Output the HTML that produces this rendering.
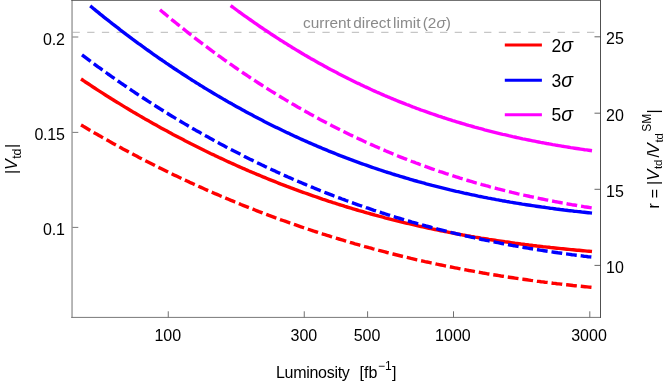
<!DOCTYPE html>
<html><head><meta charset="utf-8"><title>Vtd sensitivity</title>
<style>
html,body{margin:0;padding:0;background:#fff;}
svg{display:block;will-change:transform;}
text{font-family:"Liberation Sans",sans-serif;fill:#000;}
.t{font-size:16px;}
.i{font-style:italic;}
</style></head><body>
<svg width="664" height="386" viewBox="0 0 664 386">
<rect width="664" height="386" fill="#fff"/>
<!-- horizontal dashed limit line -->
<line x1="72.5" y1="32.3" x2="600" y2="32.3" stroke="#b8b8b8" stroke-width="1" stroke-dasharray="7.3 7.4"/>
<text x="303" y="27.9" font-size="15.4" word-spacing="-2" style="fill:#8a8a8a" id="lim">current direct limit (2<tspan class="i">σ</tspan>)</text>
<!-- curves -->
<g fill="none" stroke-width="3.4" stroke-linecap="butt" stroke-linejoin="round">
<path d="M81.0,79.0 L83.0,80.3 L85.0,81.7 L87.0,83.0 L89.0,84.3 L91.0,85.6 L93.0,87.0 L95.0,88.3 L97.0,89.6 L99.0,90.9 L101.0,92.1 L103.0,93.4 L105.0,94.7 L107.0,96.0 L109.0,97.2 L111.0,98.5 L113.0,99.7 L115.0,101.0 L117.0,102.2 L119.0,103.4 L121.0,104.6 L123.0,105.9 L125.0,107.1 L127.0,108.3 L129.0,109.5 L131.0,110.7 L133.0,111.9 L135.0,113.0 L137.0,114.2 L139.0,115.4 L141.0,116.6 L143.0,117.7 L145.0,118.9 L147.0,120.0 L149.0,121.1 L151.0,122.3 L153.0,123.4 L155.0,124.5 L157.0,125.6 L159.0,126.8 L161.0,127.9 L163.0,129.0 L165.0,130.1 L167.0,131.1 L169.0,132.2 L171.0,133.3 L173.0,134.4 L175.0,135.4 L177.0,136.5 L179.0,137.6 L181.0,138.6 L183.0,139.6 L185.0,140.7 L187.0,141.7 L189.0,142.7 L191.0,143.8 L193.0,144.8 L195.0,145.8 L197.0,146.8 L199.0,147.8 L201.0,148.8 L203.0,149.8 L205.0,150.8 L207.0,151.7 L209.0,152.7 L211.0,153.7 L213.0,154.6 L215.0,155.6 L217.0,156.5 L219.0,157.5 L221.0,158.4 L223.0,159.3 L225.0,160.3 L227.0,161.2 L229.0,162.1 L231.0,163.0 L233.0,163.9 L235.0,164.8 L237.0,165.7 L239.0,166.6 L241.0,167.5 L243.0,168.4 L245.0,169.2 L247.0,170.1 L249.0,171.0 L251.0,171.8 L253.0,172.7 L255.0,173.5 L257.0,174.4 L259.0,175.2 L261.0,176.0 L263.0,176.9 L265.0,177.7 L267.0,178.5 L269.0,179.3 L271.0,180.1 L273.0,180.9 L275.0,181.7 L277.0,182.5 L279.0,183.3 L281.0,184.1 L283.0,184.8 L285.0,185.6 L287.0,186.4 L289.0,187.1 L291.0,187.9 L293.0,188.6 L295.0,189.4 L297.0,190.1 L299.0,190.9 L301.0,191.6 L303.0,192.3 L305.0,193.0 L307.0,193.7 L309.0,194.4 L311.0,195.1 L313.0,195.8 L315.0,196.5 L317.0,197.2 L319.0,197.9 L321.0,198.6 L323.0,199.3 L325.0,199.9 L327.0,200.6 L329.0,201.3 L331.0,201.9 L333.0,202.6 L335.0,203.2 L337.0,203.8 L339.0,204.5 L341.0,205.1 L343.0,205.7 L345.0,206.4 L347.0,207.0 L349.0,207.6 L351.0,208.2 L353.0,208.8 L355.0,209.4 L357.0,210.0 L359.0,210.6 L361.0,211.1 L363.0,211.7 L365.0,212.3 L367.0,212.9 L369.0,213.4 L371.0,214.0 L373.0,214.5 L375.0,215.1 L377.0,215.6 L379.0,216.2 L381.0,216.7 L383.0,217.2 L385.0,217.8 L387.0,218.3 L389.0,218.8 L391.0,219.3 L393.0,219.8 L395.0,220.3 L397.0,220.8 L399.0,221.3 L401.0,221.8 L403.0,222.3 L405.0,222.8 L407.0,223.3 L409.0,223.7 L411.0,224.2 L413.0,224.7 L415.0,225.1 L417.0,225.6 L419.0,226.1 L421.0,226.5 L423.0,226.9 L425.0,227.4 L427.0,227.8 L429.0,228.3 L431.0,228.7 L433.0,229.1 L435.0,229.5 L437.0,229.9 L439.0,230.3 L441.0,230.8 L443.0,231.2 L445.0,231.6 L447.0,231.9 L449.0,232.3 L451.0,232.7 L453.0,233.1 L455.0,233.5 L457.0,233.9 L459.0,234.2 L461.0,234.6 L463.0,235.0 L465.0,235.3 L467.0,235.7 L469.0,236.0 L471.0,236.4 L473.0,236.7 L475.0,237.1 L477.0,237.4 L479.0,237.7 L481.0,238.1 L483.0,238.4 L485.0,238.7 L487.0,239.0 L489.0,239.4 L491.0,239.7 L493.0,240.0 L495.0,240.3 L497.0,240.6 L499.0,240.9 L501.0,241.2 L503.0,241.5 L505.0,241.8 L507.0,242.0 L509.0,242.3 L511.0,242.6 L513.0,242.9 L515.0,243.2 L517.0,243.4 L519.0,243.7 L521.0,244.0 L523.0,244.2 L525.0,244.5 L527.0,244.7 L529.0,245.0 L531.0,245.2 L533.0,245.5 L535.0,245.7 L537.0,246.0 L539.0,246.2 L541.0,246.4 L543.0,246.7 L545.0,246.9 L547.0,247.1 L549.0,247.3 L551.0,247.6 L553.0,247.8 L555.0,248.0 L557.0,248.2 L559.0,248.4 L561.0,248.6 L563.0,248.8 L565.0,249.0 L567.0,249.2 L569.0,249.4 L571.0,249.6 L573.0,249.8 L575.0,250.0 L577.0,250.2 L579.0,250.3 L581.0,250.5 L583.0,250.7 L585.0,250.9 L587.0,251.1 L589.0,251.2 L591.0,251.4 L592.0,251.5" stroke="#ff0000"/>
<path d="M81.0,125.0 L83.0,126.1 L85.0,127.3 L87.0,128.5 L89.0,129.7 L91.0,130.9 L93.0,132.0 L95.0,133.2 L97.0,134.3 L99.0,135.5 L101.0,136.6 L103.0,137.8 L105.0,138.9 L107.0,140.0 L109.0,141.1 L111.0,142.3 L113.0,143.4 L115.0,144.5 L117.0,145.6 L119.0,146.7 L121.0,147.8 L123.0,148.9 L125.0,149.9 L127.0,151.0 L129.0,152.1 L131.0,153.1 L133.0,154.2 L135.0,155.3 L137.0,156.3 L139.0,157.4 L141.0,158.4 L143.0,159.4 L145.0,160.5 L147.0,161.5 L149.0,162.5 L151.0,163.5 L153.0,164.5 L155.0,165.6 L157.0,166.6 L159.0,167.6 L161.0,168.5 L163.0,169.5 L165.0,170.5 L167.0,171.5 L169.0,172.5 L171.0,173.4 L173.0,174.4 L175.0,175.4 L177.0,176.3 L179.0,177.3 L181.0,178.2 L183.0,179.2 L185.0,180.1 L187.0,181.0 L189.0,181.9 L191.0,182.9 L193.0,183.8 L195.0,184.7 L197.0,185.6 L199.0,186.5 L201.0,187.4 L203.0,188.3 L205.0,189.2 L207.0,190.1 L209.0,191.0 L211.0,191.8 L213.0,192.7 L215.0,193.6 L217.0,194.4 L219.0,195.3 L221.0,196.2 L223.0,197.0 L225.0,197.8 L227.0,198.7 L229.0,199.5 L231.0,200.4 L233.0,201.2 L235.0,202.0 L237.0,202.8 L239.0,203.6 L241.0,204.5 L243.0,205.3 L245.0,206.1 L247.0,206.9 L249.0,207.7 L251.0,208.4 L253.0,209.2 L255.0,210.0 L257.0,210.8 L259.0,211.6 L261.0,212.3 L263.0,213.1 L265.0,213.8 L267.0,214.6 L269.0,215.4 L271.0,216.1 L273.0,216.8 L275.0,217.6 L277.0,218.3 L279.0,219.0 L281.0,219.8 L283.0,220.5 L285.0,221.2 L287.0,221.9 L289.0,222.6 L291.0,223.3 L293.0,224.0 L295.0,224.7 L297.0,225.4 L299.0,226.1 L301.0,226.8 L303.0,227.5 L305.0,228.2 L307.0,228.8 L309.0,229.5 L311.0,230.2 L313.0,230.8 L315.0,231.5 L317.0,232.1 L319.0,232.8 L321.0,233.4 L323.0,234.1 L325.0,234.7 L327.0,235.3 L329.0,235.9 L331.0,236.6 L333.0,237.2 L335.0,237.8 L337.0,238.4 L339.0,239.0 L341.0,239.6 L343.0,240.2 L345.0,240.8 L347.0,241.4 L349.0,242.0 L351.0,242.6 L353.0,243.2 L355.0,243.8 L357.0,244.3 L359.0,244.9 L361.0,245.5 L363.0,246.0 L365.0,246.6 L367.0,247.1 L369.0,247.7 L371.0,248.2 L373.0,248.8 L375.0,249.3 L377.0,249.8 L379.0,250.4 L381.0,250.9 L383.0,251.4 L385.0,251.9 L387.0,252.5 L389.0,253.0 L391.0,253.5 L393.0,254.0 L395.0,254.5 L397.0,255.0 L399.0,255.5 L401.0,256.0 L403.0,256.5 L405.0,256.9 L407.0,257.4 L409.0,257.9 L411.0,258.4 L413.0,258.8 L415.0,259.3 L417.0,259.8 L419.0,260.2 L421.0,260.7 L423.0,261.1 L425.0,261.6 L427.0,262.0 L429.0,262.4 L431.0,262.9 L433.0,263.3 L435.0,263.7 L437.0,264.2 L439.0,264.6 L441.0,265.0 L443.0,265.4 L445.0,265.8 L447.0,266.2 L449.0,266.6 L451.0,267.0 L453.0,267.4 L455.0,267.8 L457.0,268.2 L459.0,268.6 L461.0,269.0 L463.0,269.4 L465.0,269.7 L467.0,270.1 L469.0,270.5 L471.0,270.8 L473.0,271.2 L475.0,271.6 L477.0,271.9 L479.0,272.3 L481.0,272.6 L483.0,273.0 L485.0,273.3 L487.0,273.7 L489.0,274.0 L491.0,274.3 L493.0,274.7 L495.0,275.0 L497.0,275.3 L499.0,275.6 L501.0,276.0 L503.0,276.3 L505.0,276.6 L507.0,276.9 L509.0,277.2 L511.0,277.5 L513.0,277.8 L515.0,278.1 L517.0,278.4 L519.0,278.7 L521.0,279.0 L523.0,279.2 L525.0,279.5 L527.0,279.8 L529.0,280.1 L531.0,280.4 L533.0,280.6 L535.0,280.9 L537.0,281.2 L539.0,281.4 L541.0,281.7 L543.0,281.9 L545.0,282.2 L547.0,282.4 L549.0,282.7 L551.0,282.9 L553.0,283.2 L555.0,283.4 L557.0,283.7 L559.0,283.9 L561.0,284.1 L563.0,284.4 L565.0,284.6 L567.0,284.8 L569.0,285.0 L571.0,285.2 L573.0,285.5 L575.0,285.7 L577.0,285.9 L579.0,286.1 L581.0,286.3 L583.0,286.5 L585.0,286.7 L587.0,286.9 L589.0,287.1 L591.0,287.3 L592.0,287.4" stroke="#ff0000" stroke-dasharray="10.8 3.91"/>
<path d="M90.2,5.9 L92.2,7.5 L94.2,9.2 L96.2,10.8 L98.2,12.4 L100.2,14.1 L102.2,15.7 L104.2,17.3 L106.2,18.9 L108.2,20.4 L110.2,22.0 L112.2,23.6 L114.2,25.1 L116.2,26.7 L118.2,28.2 L120.2,29.8 L122.2,31.3 L124.2,32.8 L126.2,34.4 L128.2,35.9 L130.2,37.4 L132.2,38.9 L134.2,40.3 L136.2,41.8 L138.2,43.3 L140.2,44.7 L142.2,46.2 L144.2,47.6 L146.2,49.1 L148.2,50.5 L150.2,51.9 L152.2,53.4 L154.2,54.8 L156.2,56.2 L158.2,57.6 L160.2,59.0 L162.2,60.3 L164.2,61.7 L166.2,63.1 L168.2,64.4 L170.2,65.8 L172.2,67.1 L174.2,68.5 L176.2,69.8 L178.2,71.1 L180.2,72.4 L182.2,73.7 L184.2,75.0 L186.2,76.3 L188.2,77.6 L190.2,78.9 L192.2,80.2 L194.2,81.4 L196.2,82.7 L198.2,83.9 L200.2,85.2 L202.2,86.4 L204.2,87.7 L206.2,88.9 L208.2,90.1 L210.2,91.3 L212.2,92.5 L214.2,93.7 L216.2,94.9 L218.2,96.1 L220.2,97.2 L222.2,98.4 L224.2,99.6 L226.2,100.7 L228.2,101.9 L230.2,103.0 L232.2,104.1 L234.2,105.3 L236.2,106.4 L238.2,107.5 L240.2,108.6 L242.2,109.7 L244.2,110.8 L246.2,111.9 L248.2,113.0 L250.2,114.0 L252.2,115.1 L254.2,116.2 L256.2,117.2 L258.2,118.3 L260.2,119.3 L262.2,120.3 L264.2,121.4 L266.2,122.4 L268.2,123.4 L270.2,124.4 L272.2,125.4 L274.2,126.4 L276.2,127.4 L278.2,128.3 L280.2,129.3 L282.2,130.3 L284.2,131.2 L286.2,132.2 L288.2,133.1 L290.2,134.1 L292.2,135.0 L294.2,136.0 L296.2,136.9 L298.2,137.8 L300.2,138.7 L302.2,139.6 L304.2,140.5 L306.2,141.4 L308.2,142.3 L310.2,143.1 L312.2,144.0 L314.2,144.9 L316.2,145.7 L318.2,146.6 L320.2,147.4 L322.2,148.3 L324.2,149.1 L326.2,149.9 L328.2,150.8 L330.2,151.6 L332.2,152.4 L334.2,153.2 L336.2,154.0 L338.2,154.8 L340.2,155.6 L342.2,156.3 L344.2,157.1 L346.2,157.9 L348.2,158.6 L350.2,159.4 L352.2,160.1 L354.2,160.9 L356.2,161.6 L358.2,162.3 L360.2,163.1 L362.2,163.8 L364.2,164.5 L366.2,165.2 L368.2,165.9 L370.2,166.6 L372.2,167.3 L374.2,168.0 L376.2,168.7 L378.2,169.3 L380.2,170.0 L382.2,170.7 L384.2,171.3 L386.2,172.0 L388.2,172.6 L390.2,173.2 L392.2,173.9 L394.2,174.5 L396.2,175.1 L398.2,175.7 L400.2,176.3 L402.2,176.9 L404.2,177.5 L406.2,178.1 L408.2,178.7 L410.2,179.3 L412.2,179.9 L414.2,180.5 L416.2,181.0 L418.2,181.6 L420.2,182.1 L422.2,182.7 L424.2,183.2 L426.2,183.8 L428.2,184.3 L430.2,184.8 L432.2,185.4 L434.2,185.9 L436.2,186.4 L438.2,186.9 L440.2,187.4 L442.2,187.9 L444.2,188.4 L446.2,188.9 L448.2,189.4 L450.2,189.9 L452.2,190.3 L454.2,190.8 L456.2,191.3 L458.2,191.7 L460.2,192.2 L462.2,192.6 L464.2,193.1 L466.2,193.5 L468.2,193.9 L470.2,194.4 L472.2,194.8 L474.2,195.2 L476.2,195.6 L478.2,196.1 L480.2,196.5 L482.2,196.9 L484.2,197.3 L486.2,197.7 L488.2,198.1 L490.2,198.4 L492.2,198.8 L494.2,199.2 L496.2,199.6 L498.2,199.9 L500.2,200.3 L502.2,200.7 L504.2,201.0 L506.2,201.4 L508.2,201.7 L510.2,202.1 L512.2,202.4 L514.2,202.8 L516.2,203.1 L518.2,203.4 L520.2,203.7 L522.2,204.1 L524.2,204.4 L526.2,204.7 L528.2,205.0 L530.2,205.3 L532.2,205.6 L534.2,205.9 L536.2,206.2 L538.2,206.5 L540.2,206.8 L542.2,207.1 L544.2,207.3 L546.2,207.6 L548.2,207.9 L550.2,208.2 L552.2,208.4 L554.2,208.7 L556.2,209.0 L558.2,209.2 L560.2,209.5 L562.2,209.7 L564.2,210.0 L566.2,210.2 L568.2,210.5 L570.2,210.7 L572.2,210.9 L574.2,211.2 L576.2,211.4 L578.2,211.6 L580.2,211.8 L582.2,212.1 L584.2,212.3 L586.2,212.5 L588.2,212.7 L590.2,212.9 L592.0,213.1" stroke="#0000ff"/>
<path d="M82.0,54.9 L84.0,56.4 L86.0,57.9 L88.0,59.4 L90.0,60.9 L92.0,62.4 L94.0,63.8 L96.0,65.3 L98.0,66.8 L100.0,68.2 L102.0,69.7 L104.0,71.1 L106.0,72.5 L108.0,74.0 L110.0,75.4 L112.0,76.8 L114.0,78.2 L116.0,79.6 L118.0,81.0 L120.0,82.4 L122.0,83.8 L124.0,85.1 L126.0,86.5 L128.0,87.9 L130.0,89.2 L132.0,90.6 L134.0,91.9 L136.0,93.3 L138.0,94.6 L140.0,95.9 L142.0,97.2 L144.0,98.5 L146.0,99.8 L148.0,101.1 L150.0,102.4 L152.0,103.7 L154.0,105.0 L156.0,106.2 L158.0,107.5 L160.0,108.8 L162.0,110.0 L164.0,111.3 L166.0,112.5 L168.0,113.7 L170.0,115.0 L172.0,116.2 L174.0,117.4 L176.0,118.6 L178.0,119.8 L180.0,121.0 L182.0,122.2 L184.0,123.4 L186.0,124.6 L188.0,125.7 L190.0,126.9 L192.0,128.1 L194.0,129.2 L196.0,130.4 L198.0,131.5 L200.0,132.6 L202.0,133.8 L204.0,134.9 L206.0,136.0 L208.0,137.1 L210.0,138.2 L212.0,139.3 L214.0,140.4 L216.0,141.5 L218.0,142.6 L220.0,143.7 L222.0,144.7 L224.0,145.8 L226.0,146.9 L228.0,147.9 L230.0,149.0 L232.0,150.0 L234.0,151.1 L236.0,152.1 L238.0,153.1 L240.0,154.1 L242.0,155.1 L244.0,156.2 L246.0,157.2 L248.0,158.2 L250.0,159.2 L252.0,160.1 L254.0,161.1 L256.0,162.1 L258.0,163.1 L260.0,164.0 L262.0,165.0 L264.0,165.9 L266.0,166.9 L268.0,167.8 L270.0,168.8 L272.0,169.7 L274.0,170.6 L276.0,171.6 L278.0,172.5 L280.0,173.4 L282.0,174.3 L284.0,175.2 L286.0,176.1 L288.0,177.0 L290.0,177.8 L292.0,178.7 L294.0,179.6 L296.0,180.5 L298.0,181.3 L300.0,182.2 L302.0,183.0 L304.0,183.9 L306.0,184.7 L308.0,185.6 L310.0,186.4 L312.0,187.2 L314.0,188.0 L316.0,188.8 L318.0,189.7 L320.0,190.5 L322.0,191.3 L324.0,192.1 L326.0,192.8 L328.0,193.6 L330.0,194.4 L332.0,195.2 L334.0,196.0 L336.0,196.7 L338.0,197.5 L340.0,198.2 L342.0,199.0 L344.0,199.7 L346.0,200.5 L348.0,201.2 L350.0,201.9 L352.0,202.6 L354.0,203.4 L356.0,204.1 L358.0,204.8 L360.0,205.5 L362.0,206.2 L364.0,206.9 L366.0,207.6 L368.0,208.2 L370.0,208.9 L372.0,209.6 L374.0,210.3 L376.0,210.9 L378.0,211.6 L380.0,212.2 L382.0,212.9 L384.0,213.5 L386.0,214.2 L388.0,214.8 L390.0,215.4 L392.0,216.1 L394.0,216.7 L396.0,217.3 L398.0,217.9 L400.0,218.5 L402.0,219.1 L404.0,219.7 L406.0,220.3 L408.0,220.9 L410.0,221.5 L412.0,222.1 L414.0,222.6 L416.0,223.2 L418.0,223.8 L420.0,224.3 L422.0,224.9 L424.0,225.4 L426.0,226.0 L428.0,226.5 L430.0,227.0 L432.0,227.6 L434.0,228.1 L436.0,228.6 L438.0,229.2 L440.0,229.7 L442.0,230.2 L444.0,230.7 L446.0,231.2 L448.0,231.7 L450.0,232.2 L452.0,232.7 L454.0,233.1 L456.0,233.6 L458.0,234.1 L460.0,234.6 L462.0,235.0 L464.0,235.5 L466.0,236.0 L468.0,236.4 L470.0,236.9 L472.0,237.3 L474.0,237.7 L476.0,238.2 L478.0,238.6 L480.0,239.0 L482.0,239.5 L484.0,239.9 L486.0,240.3 L488.0,240.7 L490.0,241.1 L492.0,241.5 L494.0,241.9 L496.0,242.3 L498.0,242.7 L500.0,243.1 L502.0,243.5 L504.0,243.9 L506.0,244.2 L508.0,244.6 L510.0,245.0 L512.0,245.4 L514.0,245.7 L516.0,246.1 L518.0,246.4 L520.0,246.8 L522.0,247.1 L524.0,247.5 L526.0,247.8 L528.0,248.1 L530.0,248.5 L532.0,248.8 L534.0,249.1 L536.0,249.5 L538.0,249.8 L540.0,250.1 L542.0,250.4 L544.0,250.7 L546.0,251.0 L548.0,251.3 L550.0,251.6 L552.0,251.9 L554.0,252.2 L556.0,252.5 L558.0,252.8 L560.0,253.0 L562.0,253.3 L564.0,253.6 L566.0,253.9 L568.0,254.1 L570.0,254.4 L572.0,254.7 L574.0,254.9 L576.0,255.2 L578.0,255.4 L580.0,255.7 L582.0,255.9 L584.0,256.2 L586.0,256.4 L588.0,256.7 L590.0,256.9 L592.0,257.1" stroke="#0000ff" stroke-dasharray="10.8 3.91"/>
<path d="M230.6,5.6 L232.6,7.0 L234.6,8.5 L236.6,10.0 L238.6,11.5 L240.6,12.9 L242.6,14.4 L244.6,15.8 L246.6,17.2 L248.6,18.6 L250.6,20.0 L252.6,21.4 L254.6,22.8 L256.6,24.2 L258.6,25.6 L260.6,27.0 L262.6,28.3 L264.6,29.7 L266.6,31.0 L268.6,32.3 L270.6,33.7 L272.6,35.0 L274.6,36.3 L276.6,37.6 L278.6,38.9 L280.6,40.2 L282.6,41.4 L284.6,42.7 L286.6,43.9 L288.6,45.2 L290.6,46.4 L292.6,47.7 L294.6,48.9 L296.6,50.1 L298.6,51.3 L300.6,52.5 L302.6,53.7 L304.6,54.9 L306.6,56.0 L308.6,57.2 L310.6,58.4 L312.6,59.5 L314.6,60.6 L316.6,61.8 L318.6,62.9 L320.6,64.0 L322.6,65.1 L324.6,66.2 L326.6,67.3 L328.6,68.4 L330.6,69.5 L332.6,70.5 L334.6,71.6 L336.6,72.6 L338.6,73.7 L340.6,74.7 L342.6,75.7 L344.6,76.7 L346.6,77.7 L348.6,78.8 L350.6,79.7 L352.6,80.7 L354.6,81.7 L356.6,82.7 L358.6,83.6 L360.6,84.6 L362.6,85.5 L364.6,86.5 L366.6,87.4 L368.6,88.3 L370.6,89.3 L372.6,90.2 L374.6,91.1 L376.6,92.0 L378.6,92.8 L380.6,93.7 L382.6,94.6 L384.6,95.5 L386.6,96.3 L388.6,97.2 L390.6,98.0 L392.6,98.8 L394.6,99.7 L396.6,100.5 L398.6,101.3 L400.6,102.1 L402.6,102.9 L404.6,103.7 L406.6,104.5 L408.6,105.2 L410.6,106.0 L412.6,106.8 L414.6,107.5 L416.6,108.3 L418.6,109.0 L420.6,109.8 L422.6,110.5 L424.6,111.2 L426.6,111.9 L428.6,112.6 L430.6,113.3 L432.6,114.0 L434.6,114.7 L436.6,115.4 L438.6,116.1 L440.6,116.7 L442.6,117.4 L444.6,118.0 L446.6,118.7 L448.6,119.3 L450.6,119.9 L452.6,120.6 L454.6,121.2 L456.6,121.8 L458.6,122.4 L460.6,123.0 L462.6,123.6 L464.6,124.2 L466.6,124.8 L468.6,125.4 L470.6,125.9 L472.6,126.5 L474.6,127.1 L476.6,127.6 L478.6,128.2 L480.6,128.7 L482.6,129.2 L484.6,129.8 L486.6,130.3 L488.6,130.8 L490.6,131.3 L492.6,131.8 L494.6,132.3 L496.6,132.8 L498.6,133.3 L500.6,133.8 L502.6,134.3 L504.6,134.7 L506.6,135.2 L508.6,135.7 L510.6,136.1 L512.6,136.6 L514.6,137.0 L516.6,137.5 L518.6,137.9 L520.6,138.3 L522.6,138.8 L524.6,139.2 L526.6,139.6 L528.6,140.0 L530.6,140.4 L532.6,140.8 L534.6,141.2 L536.6,141.6 L538.6,142.0 L540.6,142.4 L542.6,142.7 L544.6,143.1 L546.6,143.5 L548.6,143.8 L550.6,144.2 L552.6,144.6 L554.6,144.9 L556.6,145.3 L558.6,145.6 L560.6,145.9 L562.6,146.3 L564.6,146.6 L566.6,146.9 L568.6,147.2 L570.6,147.6 L572.6,147.9 L574.6,148.2 L576.6,148.5 L578.6,148.8 L580.6,149.1 L582.6,149.4 L584.6,149.7 L586.6,149.9 L588.6,150.2 L590.6,150.5 L592.0,150.7" stroke="#ff00ff"/>
<path d="M160.0,9.8 L162.0,11.5 L164.0,13.1 L166.0,14.8 L168.0,16.5 L170.0,18.1 L172.0,19.8 L174.0,21.4 L176.0,23.0 L178.0,24.6 L180.0,26.2 L182.0,27.8 L184.0,29.4 L186.0,31.0 L188.0,32.6 L190.0,34.2 L192.0,35.7 L194.0,37.3 L196.0,38.8 L198.0,40.3 L200.0,41.9 L202.0,43.4 L204.0,44.9 L206.0,46.4 L208.0,47.9 L210.0,49.4 L212.0,50.9 L214.0,52.3 L216.0,53.8 L218.0,55.3 L220.0,56.7 L222.0,58.1 L224.0,59.6 L226.0,61.0 L228.0,62.4 L230.0,63.8 L232.0,65.2 L234.0,66.6 L236.0,68.0 L238.0,69.4 L240.0,70.7 L242.0,72.1 L244.0,73.5 L246.0,74.8 L248.0,76.1 L250.0,77.5 L252.0,78.8 L254.0,80.1 L256.0,81.4 L258.0,82.7 L260.0,84.0 L262.0,85.3 L264.0,86.6 L266.0,87.8 L268.0,89.1 L270.0,90.4 L272.0,91.6 L274.0,92.8 L276.0,94.1 L278.0,95.3 L280.0,96.5 L282.0,97.7 L284.0,98.9 L286.0,100.1 L288.0,101.3 L290.0,102.5 L292.0,103.7 L294.0,104.8 L296.0,106.0 L298.0,107.2 L300.0,108.3 L302.0,109.4 L304.0,110.6 L306.0,111.7 L308.0,112.8 L310.0,113.9 L312.0,115.0 L314.0,116.1 L316.0,117.2 L318.0,118.3 L320.0,119.4 L322.0,120.4 L324.0,121.5 L326.0,122.6 L328.0,123.6 L330.0,124.6 L332.0,125.7 L334.0,126.7 L336.0,127.7 L338.0,128.7 L340.0,129.7 L342.0,130.7 L344.0,131.7 L346.0,132.7 L348.0,133.7 L350.0,134.7 L352.0,135.6 L354.0,136.6 L356.0,137.5 L358.0,138.5 L360.0,139.4 L362.0,140.3 L364.0,141.3 L366.0,142.2 L368.0,143.1 L370.0,144.0 L372.0,144.9 L374.0,145.8 L376.0,146.7 L378.0,147.5 L380.0,148.4 L382.0,149.3 L384.0,150.1 L386.0,151.0 L388.0,151.8 L390.0,152.7 L392.0,153.5 L394.0,154.3 L396.0,155.1 L398.0,156.0 L400.0,156.8 L402.0,157.6 L404.0,158.4 L406.0,159.1 L408.0,159.9 L410.0,160.7 L412.0,161.5 L414.0,162.2 L416.0,163.0 L418.0,163.7 L420.0,164.5 L422.0,165.2 L424.0,165.9 L426.0,166.7 L428.0,167.4 L430.0,168.1 L432.0,168.8 L434.0,169.5 L436.0,170.2 L438.0,170.9 L440.0,171.6 L442.0,172.2 L444.0,172.9 L446.0,173.6 L448.0,174.2 L450.0,174.9 L452.0,175.5 L454.0,176.2 L456.0,176.8 L458.0,177.4 L460.0,178.1 L462.0,178.7 L464.0,179.3 L466.0,179.9 L468.0,180.5 L470.0,181.1 L472.0,181.7 L474.0,182.3 L476.0,182.9 L478.0,183.4 L480.0,184.0 L482.0,184.6 L484.0,185.1 L486.0,185.7 L488.0,186.2 L490.0,186.8 L492.0,187.3 L494.0,187.8 L496.0,188.3 L498.0,188.9 L500.0,189.4 L502.0,189.9 L504.0,190.4 L506.0,190.9 L508.0,191.4 L510.0,191.9 L512.0,192.4 L514.0,192.8 L516.0,193.3 L518.0,193.8 L520.0,194.2 L522.0,194.7 L524.0,195.2 L526.0,195.6 L528.0,196.0 L530.0,196.5 L532.0,196.9 L534.0,197.3 L536.0,197.8 L538.0,198.2 L540.0,198.6 L542.0,199.0 L544.0,199.4 L546.0,199.8 L548.0,200.2 L550.0,200.6 L552.0,201.0 L554.0,201.4 L556.0,201.8 L558.0,202.1 L560.0,202.5 L562.0,202.9 L564.0,203.2 L566.0,203.6 L568.0,204.0 L570.0,204.3 L572.0,204.7 L574.0,205.0 L576.0,205.3 L578.0,205.7 L580.0,206.0 L582.0,206.3 L584.0,206.7 L586.0,207.0 L588.0,207.3 L590.0,207.6 L592.0,207.9" stroke="#ff00ff" stroke-dasharray="10.8 3.91"/>
</g>
<!-- frame -->
<line x1="72.05" y1="0" x2="72.05" y2="318" stroke="#a0a0a0" stroke-width="1.5"/>
<line x1="71.3" y1="317.4" x2="601" y2="317.4" stroke="#787878" stroke-width="1"/>
<g stroke="#505050" stroke-width="1" fill="none">
<line x1="71.3" y1="0.3" x2="601" y2="0.3"/>
<line x1="600.5" y1="0" x2="600.5" y2="318"/>
</g>
<!-- ticks -->
<g stroke="#585858" stroke-width="0.8" fill="none">
<line x1="72.5" y1="37" x2="78.3" y2="37"/>
<line x1="72.5" y1="132.4" x2="78.3" y2="132.4"/>
<line x1="72.5" y1="227.4" x2="78.3" y2="227.4"/>
</g>
<g stroke="#707070" stroke-width="1" fill="none">
<line x1="168.25" y1="311.3" x2="168.25" y2="317.5"/>
<line x1="304.25" y1="311.3" x2="304.25" y2="317.5"/>
<line x1="367.6" y1="311.3" x2="367.6" y2="317.5"/>
<line x1="453.5" y1="311.3" x2="453.5" y2="317.5"/>
<line x1="589.8" y1="311.3" x2="589.8" y2="317.5"/>
</g>
<g stroke="#404040" stroke-width="0.8" fill="none">
<line x1="594.5" y1="36.8" x2="600.5" y2="36.8"/>
<line x1="594.5" y1="113.2" x2="600.5" y2="113.2"/>
<line x1="594.5" y1="189.3" x2="600.5" y2="189.3"/>
<line x1="594.5" y1="265.4" x2="600.5" y2="265.4"/>
</g>
<!-- left tick labels -->
<g class="t" text-anchor="end" letter-spacing="-0.25">
<text x="64.6" y="44.5">0.2</text>
<text x="64.6" y="139.8">0.15</text>
<text x="64.6" y="235.1">0.1</text>
</g>
<!-- bottom tick labels -->
<g class="t" text-anchor="middle">
<text x="167.8" y="340.7">100</text>
<text x="303.9" y="340.7">300</text>
<text x="367" y="340.7">500</text>
<text x="452.9" y="340.7">1000</text>
<text x="589" y="340.7">3000</text>
</g>
<!-- right tick labels -->
<g class="t">
<text x="606" y="44.3">25</text>
<text x="606" y="120.7">20</text>
<text x="606" y="196.8">15</text>
<text x="606" y="272.9">10</text>
</g>
<!-- axis labels -->
<text class="t" x="276" y="377.8" id="xlab" letter-spacing="-0.3">Luminosity</text>
<text class="t" x="359.6" y="377.8" id="xlab2">[fb<tspan font-size="12" dy="-7.5" dx="0.5">−1</tspan><tspan dy="7.5" dx="0.3">]</tspan></text>
<g transform="translate(16.9,174.1) rotate(-90)" class="t" id="ylab">
<text x="0" y="0">|</text>
<text x="4.16" y="0" class="i">V</text>
<text x="15.3" y="3.8" font-size="12.3">td</text>
<text x="26" y="0">|</text>
</g>
<g transform="translate(658.5,212) rotate(-90)" class="t" id="rlab">
<text x="3.5" y="0">r</text>
<text x="13.7" y="1">=</text>
<text x="27.05" y="0">|</text>
<text x="31.2" y="0" class="i" font-size="16.8">V</text>
<text x="42.9" y="3.9" font-size="11.5">td</text>
<text x="54.6" y="0">/</text>
<text x="57.4" y="0" class="i" font-size="16.8">V</text>
<text x="69.4" y="4" font-size="11.5">td</text>
<text x="80.3" y="-7.7" font-size="12">SM</text>
<text x="98.5" y="0">|</text>
</g>
<!-- legend -->
<g stroke-width="3" fill="none">
<line x1="504.8" y1="45" x2="541.9" y2="45" stroke="#ff0000"/>
<line x1="504.8" y1="80.2" x2="541.9" y2="80.2" stroke="#0000ff"/>
<line x1="504.8" y1="114.8" x2="541.9" y2="114.8" stroke="#ff00ff"/>
</g>
<g font-size="17.5" id="leg">
<text x="551.5" y="51.5">2<tspan class="i" font-size="19.5">σ</tspan></text>
<text x="551.5" y="86.7">3<tspan class="i" font-size="19.5">σ</tspan></text>
<text x="551.5" y="121.3">5<tspan class="i" font-size="19.5">σ</tspan></text>
</g>
</svg>
</body></html>
